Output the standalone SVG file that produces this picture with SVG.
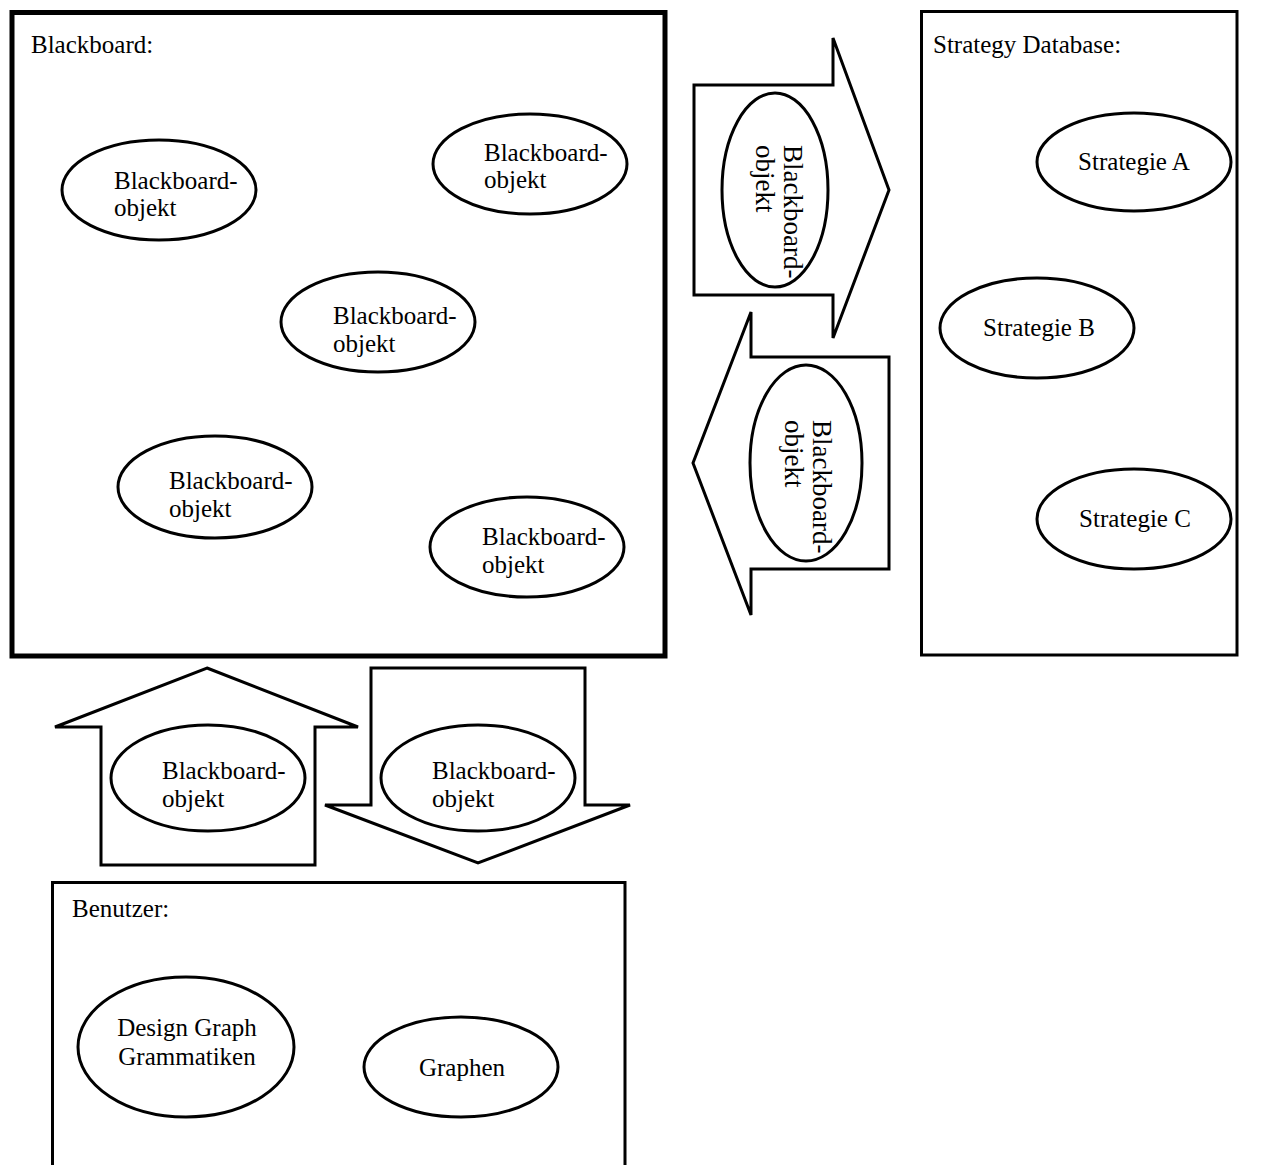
<svg xmlns="http://www.w3.org/2000/svg" width="1268" height="1165" viewBox="0 0 1268 1165">
<style>
text{font-family:"Liberation Serif","Times New Roman",serif;font-size:25px;fill:#000}
.rot{font-size:27px}
.box{fill:none;stroke:#000;stroke-width:3}
.ell{fill:#fff;stroke:#000;stroke-width:3}
.arr{fill:#fff;stroke:#000;stroke-width:3;stroke-linejoin:miter}
.c{text-anchor:middle}
</style>
<rect x="0" y="0" width="1268" height="1165" fill="#fff"/>
<g id="blackboard">
<rect x="12" y="12.5" width="653" height="643.5" fill="none" stroke="#000" stroke-width="5"/>
<text x="31" y="53">Blackboard:</text>
</g>
<g id="bb-obj-1"><ellipse class="ell" cx="159" cy="190" rx="97" ry="50"/><text x="114" y="189">Blackboard-<tspan x="114" dy="27">objekt</tspan></text></g>
<g id="bb-obj-2"><ellipse class="ell" cx="530" cy="164" rx="97" ry="50"/><text x="484" y="161">Blackboard-<tspan x="484" dy="27">objekt</tspan></text></g>
<g id="bb-obj-3"><ellipse class="ell" cx="378" cy="322" rx="97" ry="50"/><text x="333" y="324">Blackboard-<tspan x="333" dy="28">objekt</tspan></text></g>
<g id="bb-obj-4"><ellipse class="ell" cx="215" cy="487" rx="97" ry="51"/><text x="169" y="489">Blackboard-<tspan x="169" dy="28">objekt</tspan></text></g>
<g id="bb-obj-5"><ellipse class="ell" cx="527" cy="547" rx="97" ry="50"/><text x="482" y="545">Blackboard-<tspan x="482" dy="28">objekt</tspan></text></g>

<g id="strategy-db">
<rect class="box" x="921.5" y="11.5" width="315.5" height="643.5"/>
<text x="933" y="53">Strategy Database:</text>
</g>
<g id="strategie-a"><ellipse class="ell" cx="1134" cy="162" rx="97" ry="49"/><text class="c" x="1134" y="170">Strategie A</text></g>
<g id="strategie-b"><ellipse class="ell" cx="1037" cy="328" rx="97" ry="50"/><text class="c" x="1039" y="336">Strategie B</text></g>
<g id="strategie-c"><ellipse class="ell" cx="1134" cy="519" rx="97" ry="50"/><text class="c" x="1135" y="527">Strategie C</text></g>

<g id="benutzer">
<path class="box" d="M52.5,1170 V882.5 H625 V1170"/>
<text x="72" y="917">Benutzer:</text>
</g>
<g id="design-graph"><ellipse class="ell" cx="186" cy="1047" rx="108" ry="70"/><text class="c" x="187" y="1036">Design Graph<tspan x="187" dy="29">Grammatiken</tspan></text></g>
<g id="graphen"><ellipse class="ell" cx="461" cy="1067" rx="97" ry="50"/><text class="c" x="462" y="1076">Graphen</text></g>

<g id="connectors">
<g id="arrow-to-strategy">
<polygon class="arr" points="694,85 833,85 833,38 889,190 833,338 833,295 694,295"/>
<ellipse class="ell" cx="775" cy="190" rx="53" ry="97"/>
<text class="rot" transform="translate(784,145) rotate(90)">Blackboard-<tspan x="0" dy="28">objekt</tspan></text>
</g>
<g id="arrow-to-blackboard">
<polygon class="arr" points="889,357 751,357 751,312 693,463 751,615 751,569 889,569"/>
<ellipse class="ell" cx="806" cy="463" rx="56" ry="98"/>
<text class="rot" transform="translate(813,420) rotate(90)">Blackboard-<tspan x="0" dy="28">objekt</tspan></text>
</g>
<g id="arrow-up">
<polygon class="arr" points="207,668 358,727 315,727 315,865 101,865 101,727 55,727"/>
<ellipse class="ell" cx="208" cy="778" rx="97" ry="53"/>
<text x="162" y="779">Blackboard-<tspan x="162" dy="28">objekt</tspan></text>
</g>
<g id="arrow-down">
<polygon class="arr" points="371,668 585,668 585,805 630,805 478,863 325,805 371,805"/>
<ellipse class="ell" cx="478" cy="778" rx="97" ry="53"/>
<text x="432" y="779">Blackboard-<tspan x="432" dy="28">objekt</tspan></text>
</g>
</g>
</svg>
